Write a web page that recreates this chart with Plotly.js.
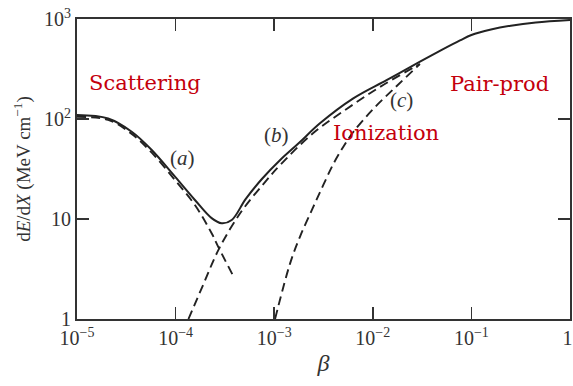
<!DOCTYPE html>
<html>
<head>
<meta charset="utf-8">
<script src="https://cdn.plot.ly/plotly-3.0.1.min.js"></script>
<style>
  html, body { margin: 0; padding: 0; background: #fff; }
  #chart { width: 573px; height: 386px; }
</style>
</head>
<body>
<div id="chart"></div>
<script>
// Total energy loss (solid curve)
const betaTotal = [1e-5, 2.07e-5, 3.59e-5, 5.73e-5, 9.86e-5, 1.57e-4, 2.32e-4, 2.93e-4, 3.71e-4, 5.13e-4, 7.5e-4, 1.15e-3, 1.78e-3, 2.91e-3, 6.34e-3, 1.38e-2, 3.01e-2, 5.0e-2, 7.66e-2, 0.1, 0.158, 0.251, 0.45, 1];
const dEdxTotal = [109.6, 101.2, 74.6, 49.0, 26.5, 15.5, 10.2, 9.06, 9.77, 15.8, 25.1, 38.9, 57.5, 90.6, 161, 245, 374, 490, 610, 692, 785, 857, 923, 977];

// (a) scattering contribution
const betaA = [1e-5, 2.07e-5, 3.59e-5, 5.73e-5, 9.86e-5, 1.57e-4, 2.32e-4, 2.7e-4, 3.8e-4];
const dEdxA = [105, 98, 71, 46, 24.5, 13.8, 7.2, 5.3, 2.75];

// (b) ionization contribution
const betaB = [1.35e-4, 1.9e-4, 2.77e-4, 4.68e-4, 8.07e-4, 1.15e-3, 2.49e-3, 5.43e-3, 1.18e-2, 2.58e-2, 3.0e-2];
const dEdxB = [1.0, 2.19, 5.09, 12.0, 23.4, 34.7, 72.4, 126, 209, 327, 355];

// (c) second ionization branch
const betaC = [1.02e-3, 1.45e-3, 1.82e-3, 2.49e-3, 3.15e-3, 3.98e-3, 5.01e-3, 6.34e-3, 1.01e-2, 1.75e-2, 2.79e-2, 3.0e-2];
const dEdxC = [1.0, 3.6, 6.6, 13.2, 21.9, 35.5, 52.5, 74.1, 126, 214, 331, 355];

// Axis ticks (the last x label gets a trailing space so it stays inside the page)
const xTickVals = [1e-5, 1e-4, 1e-3, 1e-2, 1e-1, 1];
const xTickText = ['10<sup>−5</sup>', '10<sup>−4</sup>', '10<sup>−3</sup>', '10<sup>−2</sup>', '10<sup>−1</sup>', '1\u00a0'];
const yTickVals = [1, 10, 100, 1000];
const yTickText = ['1', '10', '10<sup>2</sup>', '10<sup>3</sup>'];

// Region labels and curve tags
const regionNames = ['Scattering', 'Ionization', 'Pair-prod'];
const curveTags = ['(<i>a</i>)', '(<i>b</i>)', '(<i>c</i>)'];

const ink = '#222';
const red = '#c4000c';
const dashStyle = '9px,5px';

const traces = [
  { x: betaA, y: dEdxA, mode: 'lines', line: { color: ink, width: 1.9, dash: dashStyle, shape: 'spline' }, hoverinfo: 'skip' },
  { x: betaB, y: dEdxB, mode: 'lines', line: { color: ink, width: 1.9, dash: dashStyle, shape: 'spline' }, hoverinfo: 'skip' },
  { x: betaC, y: dEdxC, mode: 'lines', line: { color: ink, width: 1.9, dash: dashStyle, shape: 'spline' }, hoverinfo: 'skip' },
  { x: betaTotal, y: dEdxTotal, mode: 'lines', line: { color: ink, width: 2, shape: 'spline' }, hoverinfo: 'skip' }
];

const axisCommon = {
  type: 'log',
  showgrid: false,
  zeroline: false,
  showline: true,
  linecolor: '#333',
  linewidth: 2,
  mirror: 'ticks',
  ticks: 'inside',
  ticklen: 12,
  tickwidth: 1.5,
  tickcolor: '#333',
  tickmode: 'array',
  ticklabeloverflow: 'allow',
  tickfont: { family: 'Liberation Serif', size: 20, color: '#333' }
};

const serifLabel = { family: 'DejaVu Serif', size: 21, color: red };
const tagFont = { family: 'Liberation Serif', size: 21, color: '#333' };

const annotations = [
  { text: regionNames[0], x: 0.138, y: 0.787, font: serifLabel },
  { text: regionNames[1], x: 0.627, y: 0.62, font: serifLabel },
  { text: regionNames[2], x: 0.858, y: 0.783, font: serifLabel },
  { text: curveTags[0], x: 0.213, y: 0.537, font: tagFont },
  { text: curveTags[1], x: 0.404, y: 0.613, font: tagFont },
  { text: curveTags[2], x: 0.659, y: 0.73, font: tagFont }
].map(a => Object.assign({ xref: 'paper', yref: 'paper', showarrow: false, xanchor: 'center', yanchor: 'middle' }, a));

const layout = {
  width: 573,
  height: 386,
  margin: { l: 77, r: 3, t: 19, b: 67 },
  paper_bgcolor: '#fff',
  plot_bgcolor: '#fff',
  showlegend: false,
  xaxis: Object.assign({}, axisCommon, {
    range: [-5, 0],
    tickvals: xTickVals,
    ticktext: xTickText,
    title: { text: '<i>β</i>', font: { family: 'Liberation Serif', size: 24, color: '#333' }, standoff: 6 }
  }),
  yaxis: Object.assign({}, axisCommon, {
    range: [0, 3],
    tickvals: yTickVals,
    ticktext: yTickText,
    title: { text: 'd<i>E</i>/d<i>X</i> (MeV cm<sup>−1</sup>)', font: { family: 'Liberation Serif', size: 19, color: '#333' }, standoff: 8 }
  }),
  annotations: annotations
};

Plotly.newPlot('chart', traces, layout, { staticPlot: true, displayModeBar: false });
</script>
</body>
</html>
